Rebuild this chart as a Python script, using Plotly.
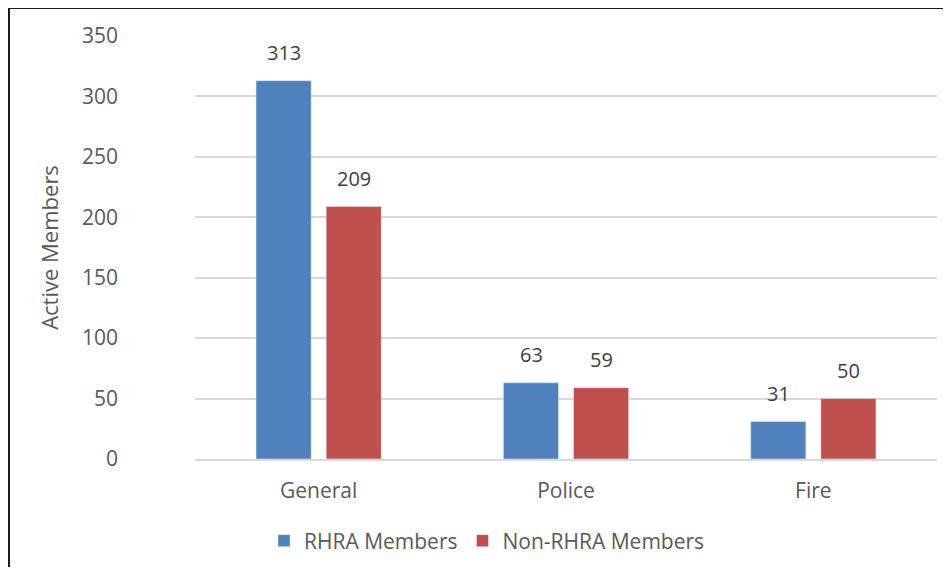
import plotly.graph_objects as go

categories = ["General", "Police", "Fire"]
rhra_members = [313, 63, 31]
non_rhra_members = [209, 59, 50]
series_names = ["RHRA Members", "Non-RHRA Members"]
y_ticks = [0, 50, 100, 150, 200, 250, 300, 350]

FONT = "Open Sans, Lato, sans-serif"
TXT = "#595959"
FS = 21

fig = go.Figure()
fig.add_trace(go.Bar(x=categories, y=rhra_members, name=series_names[0],
                     marker=dict(color="#4f81bd"), offsetgroup="a"))
fig.add_trace(go.Bar(x=categories, y=non_rhra_members, name=series_names[1],
                     marker=dict(color="#c0504d"), offsetgroup="b"))

# data labels placed above each bar, derived from data
annotations = []
for vals, shift in ((rhra_members, -1), (non_rhra_members, 1)):
    for c, v in zip(categories, vals):
        annotations.append(dict(x=c, y=v, xref="x", yref="y", text=str(v),
                                showarrow=False, xshift=shift * 35, yshift=28,
                                font=dict(size=20, color="#404040", family=FONT)))

BX0 = -186 / 742
BY1 = 1 + 28 / 423
border = dict(color="#1a1a1a", width=2)

fig.update_layout(
    width=935, height=559,
    margin=dict(l=187, r=6, t=28, b=108, autoexpand=False),
    paper_bgcolor="white", plot_bgcolor="white",
    barmode="group", bargap=0.433, bargroupgap=0.214,
    font=dict(family=FONT, color=TXT, size=FS),
    showlegend=True,
    legend=dict(orientation="h", x=(487 - 8) / 935, xanchor="center", xref="container",
                y=1 - 533 / 559, yanchor="middle", yref="container",
                font=dict(size=FS, color=TXT),
                itemwidth=30, traceorder="normal"),
    xaxis=dict(showline=True, linecolor="#d9d9d9", linewidth=1.5, automargin=False,
               ticks="", ticklabelstandoff=12, tickfont=dict(size=FS, color=TXT)),
    yaxis=dict(range=[0, 350], tickvals=y_ticks, showgrid=True, automargin=False,
               gridcolor="#d9d9d9", gridwidth=1.5, zeroline=False,
               ticks="", ticklabelstandoff=76,
               tickfont=dict(size=FS, color=TXT),
               title=dict(text="Active Members", font=dict(size=22, color=TXT),
                          standoff=17)),
    annotations=annotations,
    shapes=[
        dict(type="line", xref="paper", yref="paper", x0=BX0, x1=BX0,
             y0=-0.4, y1=BY1, line=border, layer="above"),
        dict(type="line", xref="paper", yref="paper", x0=BX0, x1=1.2,
             y0=BY1, y1=BY1, line=border, layer="above"),
    ],
)

fig.write_html("out.html")
